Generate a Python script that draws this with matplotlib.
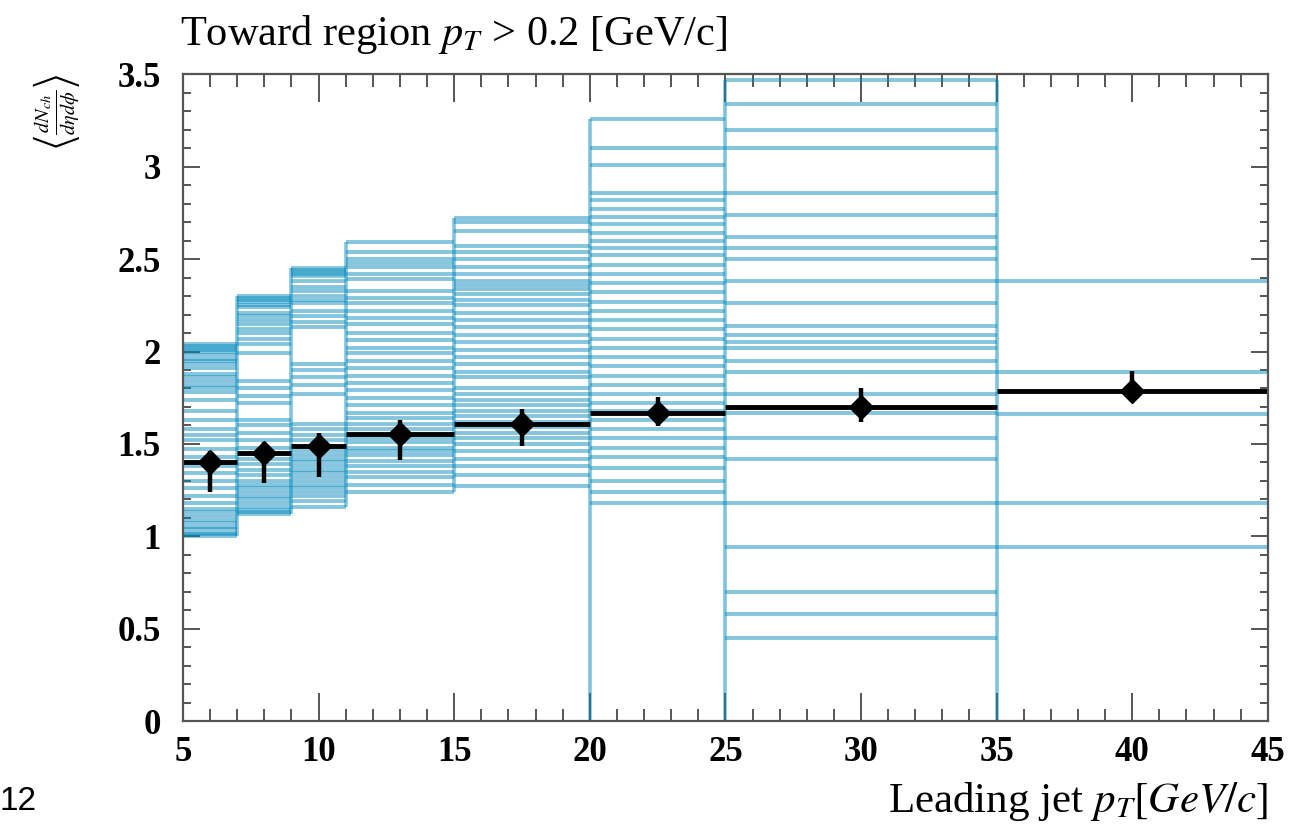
import numpy as np
import matplotlib
matplotlib.use("Agg")
import matplotlib.pyplot as plt
from matplotlib.ticker import MultipleLocator, FixedLocator

plt.rcParams['font.family'] = ['Liberation Serif', 'DejaVu Serif']
plt.rcParams['mathtext.fontset'] = 'stix'

# bin edges of leading jet pT
edges = [5, 7, 9, 11, 15, 20, 25, 35, 45]

# model variations, one list per bin (sorted high -> low)
var_5_7 = [2.04, 2.03, 2.02, 2.01, 2.00, 1.98, 1.96, 1.95, 1.93, 1.91,
           1.88, 1.86, 1.84, 1.82, 1.80, 1.78, 1.74, 1.68, 1.63, 1.58,
           1.55, 1.52, 1.47, 1.43, 1.38, 1.34, 1.30, 1.26, 1.22, 1.18,
           1.15, 1.13, 1.11, 1.09, 1.07, 1.05, 1.04, 1.02, 1.01, 1.00]
var_7_9 = [2.30, 2.29, 2.28, 2.27, 2.25, 2.24, 2.21, 2.19, 2.17, 2.15,
           2.12, 2.10, 2.07, 2.04, 1.99, 1.84, 1.80, 1.76, 1.72, 1.63,
           1.60, 1.56, 1.52, 1.48, 1.45, 1.42, 1.39, 1.36, 1.33, 1.30,
           1.28, 1.26, 1.24, 1.22, 1.20, 1.18, 1.16, 1.14, 1.13, 1.12]
var_9_11 = [2.45, 2.44, 2.43, 2.42, 2.41, 2.38, 2.35, 2.33, 2.30, 2.28,
            2.26, 2.22, 2.19, 2.16, 2.13, 1.93, 1.90, 1.86, 1.82, 1.77,
            1.61, 1.58, 1.55, 1.52, 1.49, 1.46, 1.44, 1.42, 1.40, 1.38,
            1.36, 1.34, 1.32, 1.30, 1.28, 1.26, 1.24, 1.22, 1.19, 1.16]
var_11_15 = [2.59, 2.54, 2.50, 2.48, 2.46, 2.42, 2.39, 2.33, 2.29, 2.26,
             2.22, 2.18, 2.15, 2.10, 2.06, 2.02, 1.99, 1.95, 1.91, 1.87,
             1.83, 1.79, 1.75, 1.71, 1.67, 1.64, 1.61, 1.58, 1.55, 1.53,
             1.51, 1.48, 1.46, 1.44, 1.41, 1.38, 1.35, 1.32, 1.28, 1.24]
var_15_20 = [2.72, 2.70, 2.65, 2.57, 2.54, 2.50, 2.46, 2.42, 2.38, 2.36,
             2.34, 2.31, 2.28, 2.25, 2.21, 2.17, 2.13, 2.09, 2.05, 2.01,
             1.97, 1.93, 1.89, 1.86, 1.80, 1.77, 1.74, 1.71, 1.68, 1.65,
             1.62, 1.59, 1.56, 1.53, 1.50, 1.46, 1.42, 1.38, 1.33, 1.27]
var_20_25 = [3.26, 3.10, 3.01, 2.86, 2.82, 2.77, 2.73, 2.69, 2.64, 2.60,
             2.56, 2.52, 2.47, 2.42, 2.37, 2.32, 2.27, 2.22, 2.17, 2.12,
             2.07, 2.02, 1.97, 1.92, 1.87, 1.82, 1.77, 1.72, 1.68, 1.63,
             1.58, 1.53, 1.48, 1.43, 1.37, 1.30, 1.24, 1.18]
var_25_35 = [3.47, 3.34, 3.20, 3.10, 2.86, 2.74, 2.62, 2.56, 2.50, 2.38,
             2.26, 2.14, 2.09, 2.05, 2.02, 1.95, 1.89, 1.77, 1.67, 1.53,
             1.42, 1.18, 0.94, 0.70, 0.58, 0.45]
var_35_45 = [2.38, 1.89, 1.66, 1.18, 0.94]

# measured points
data_x = [6, 8, 10, 13, 17.5, 22.5, 30, 40]
data_y = [1.40, 1.45, 1.49, 1.555, 1.61, 1.665, 1.70, 1.785]
err_up = [0.06, 0.06, 0.07, 0.075, 0.08, 0.09, 0.10, 0.11]
err_dn = [0.16, 0.16, 0.17, 0.14, 0.12, 0.07, 0.08, 0.06]

x_ticks = [5, 10, 15, 20, 25, 30, 35, 40, 45]
y_ticks = [0, 0.5, 1, 1.5, 2, 2.5, 3, 3.5]
y_labels = ['0', '0.5', '1', '1.5', '2', '2.5', '3', '3.5']

blue = '#0088bb'

fig = plt.figure(figsize=(13.07, 8.26), dpi=100)
ax = fig.add_axes([0.140, 0.127, 0.830, 0.783])

# variation x bin table, empty bins stay at 0
per_bin = [var_5_7, var_7_9, var_9_11, var_11_15, var_15_20,
           var_20_25, var_25_35, var_35_45]
n_var = max(len(v) for v in per_bin)
table = np.zeros((n_var, len(per_bin)))
for j, vals in enumerate(per_bin):
    table[:len(vals), j] = vals

# horizontal bin contents
for j, vals in enumerate(per_bin):
    ax.hlines(vals, edges[j], edges[j + 1], color=blue, alpha=0.48, lw=2.8)

# bin boundaries: one vertical spanning all variations on both sides
for j in range(1, len(edges) - 1):
    side = table[:, j - 1:j + 1]
    ax.vlines(edges[j], side.min(), side.max(), color=blue, alpha=0.5, lw=2.6)

half_w = [(edges[k + 1] - edges[k]) / 2 for k in range(len(edges) - 1)]
centers = [(edges[k + 1] + edges[k]) / 2 for k in range(len(edges) - 1)]
ax.errorbar(centers, data_y, xerr=half_w, fmt='none', ecolor='black',
            elinewidth=3.5, capsize=0, zorder=5)
ax.errorbar(data_x, data_y, yerr=[err_dn, err_up], fmt='D', color='black',
            ms=12, elinewidth=3.2, capsize=0, zorder=6)

ax.set_xlim(5, 45)
ax.set_ylim(0, 3.5)
ax.xaxis.set_major_locator(FixedLocator(x_ticks))
ax.xaxis.set_minor_locator(MultipleLocator(1))
ax.yaxis.set_major_locator(FixedLocator(y_ticks))
ax.set_yticklabels(y_labels)
ax.yaxis.set_minor_locator(MultipleLocator(0.1))
ax.tick_params(which='both', direction='in', top=True, right=True,
               labelsize=25, color='#555555', width=1.4)
ax.tick_params(axis='x', which='major', length=20, pad=11)
ax.tick_params(axis='x', which='minor', length=9)
ax.tick_params(axis='y', which='major', length=12, pad=16)
ax.tick_params(axis='y', which='minor', length=6)
for lab in ax.get_xticklabels() + ax.get_yticklabels():
    lab.set_fontweight('bold')
for sp in ax.spines.values():
    sp.set_color('#555555')
    sp.set_linewidth(1.6)
    sp.set_zorder(7)

fig.text(0.138, 0.958, r'Toward region $p_T$ > 0.2 [GeV/c]', fontsize=30.5,
         ha='left', va='center')
fig.text(0.970, 0.030, r'Leading jet $p_T[GeV/c]$', fontsize=31,
         ha='right', va='center')
fig.text(0.043, 0.865,
         r'$\left\langle \frac{dN_{ch}}{d\eta d\phi} \right\rangle$',
         fontsize=21, rotation=90, ha='center', va='center')
fig.text(0.0, 0.030, '12', fontsize=24, family='Liberation Sans',
         ha='left', va='center')

fig.savefig('out.png', dpi=100)
